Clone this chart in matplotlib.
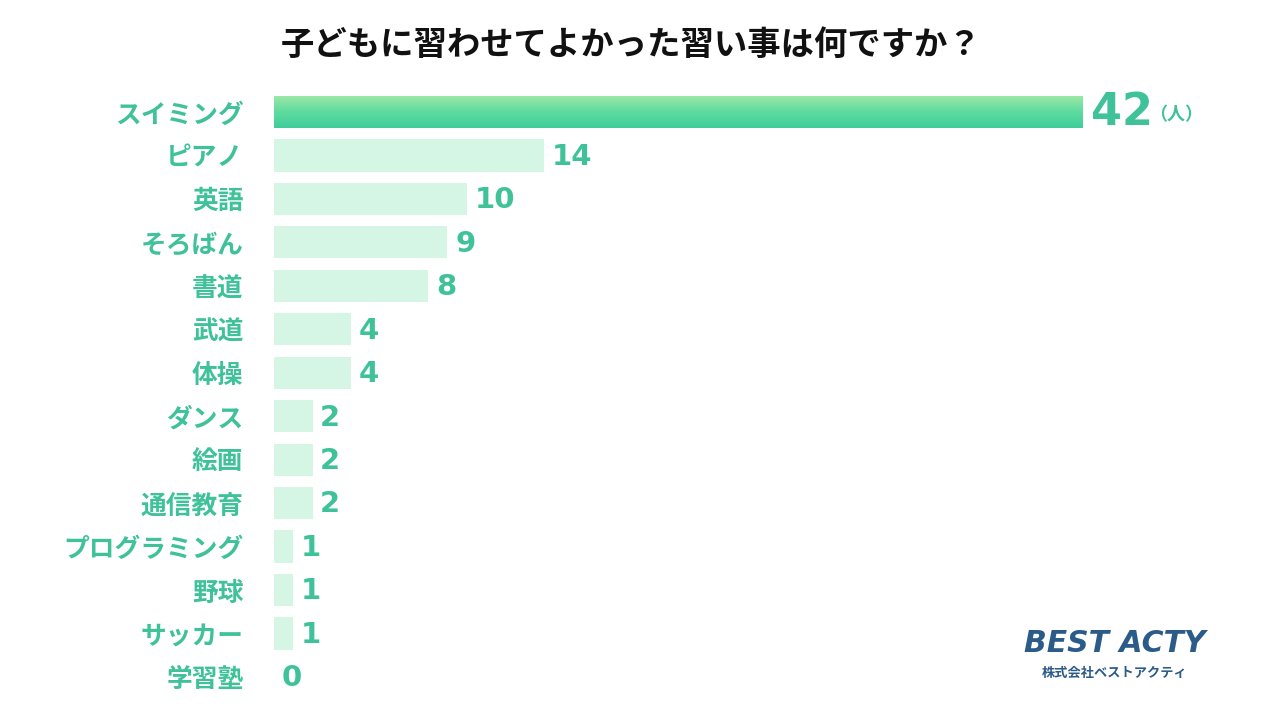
import numpy as np
import matplotlib.pyplot as plt

plt.rcParams['font.family'] = ['Noto Sans CJK JP', 'DejaVu Sans']

# data
lessons = ["スイミング", "ピアノ", "英語", "そろばん", "書道", "武道", "体操",
           "ダンス", "絵画", "通信教育", "プログラミング", "野球", "サッカー", "学習塾"]
counts = [42, 14, 10, 9, 8, 4, 4, 2, 2, 2, 1, 1, 1, 0]

GREEN = "#3fc29a"
LIGHT = "#d5f5e5"

fig = plt.figure(figsize=(12.8, 7.2), dpi=100)
ax = fig.add_axes([274 / 1280, 0.0236, 963 / 1280, 0.857])

y = np.arange(len(lessons))
bars = ax.barh(y, counts, height=0.74, color=LIGHT, edgecolor="none")

# gradient on the top bar
top = bars[0]
top.set_facecolor("none")
grad = np.linspace(0, 1, 100).reshape(-1, 1)
cmap = plt.matplotlib.colors.LinearSegmentedColormap.from_list("g", ["#a0e8a6", "#5fdc9f", "#3fcc9c"])
x0, y0 = top.get_x(), top.get_y()
im = ax.imshow(grad, extent=[x0, x0 + top.get_width(), y0 + top.get_height(), y0],
               aspect="auto", cmap=cmap, zorder=2)
im.set_clip_path(top)

ax.set_xlim(0, 50)
ax.set_ylim(len(lessons) - 0.4, -0.6)
ax.set_yticks(y)
ax.set_yticklabels(lessons, fontsize=18.5, fontweight="bold", color=GREEN)
ax.tick_params(axis="y", length=0, pad=22)
ax.set_xticks([])
for s in ax.spines.values():
    s.set_visible(False)

for i, v in enumerate(counts):
    if i == 0:
        ax.text(v + 0.4, i, str(v), va="center", ha="left", fontsize=32,
                fontweight="bold", color=GREEN, family="DejaVu Sans")
        ax.text(v + 3.45, i + 0.05, "（人）", va="center", ha="left", fontsize=13,
                fontweight="bold", color=GREEN)
    else:
        ax.text(v + 0.4, i + 0.03, str(v), va="center", ha="left", fontsize=21,
                fontweight="bold", color=GREEN, family="DejaVu Sans")

fig.text(631 / 1280, 1 - 45 / 720, "子どもに習わせてよかった習い事は何ですか？", ha="center", va="center",
         fontsize=24, fontweight="bold", color="#111111")

# logo
fig.text(1115 / 1280, 1 - 643 / 720, "BEST ACTY", ha="center", va="center",
         fontsize=21.5, fontweight="bold", style="italic",
         color="#2b5b88", family=["DejaVu Sans"])
fig.text(1115 / 1280, 1 - 673 / 720, "株式会社ベストアクティ", ha="center", va="center",
         fontsize=9.5, fontweight="bold", color="#2b5b88")

fig.savefig("out.png", dpi=100)
